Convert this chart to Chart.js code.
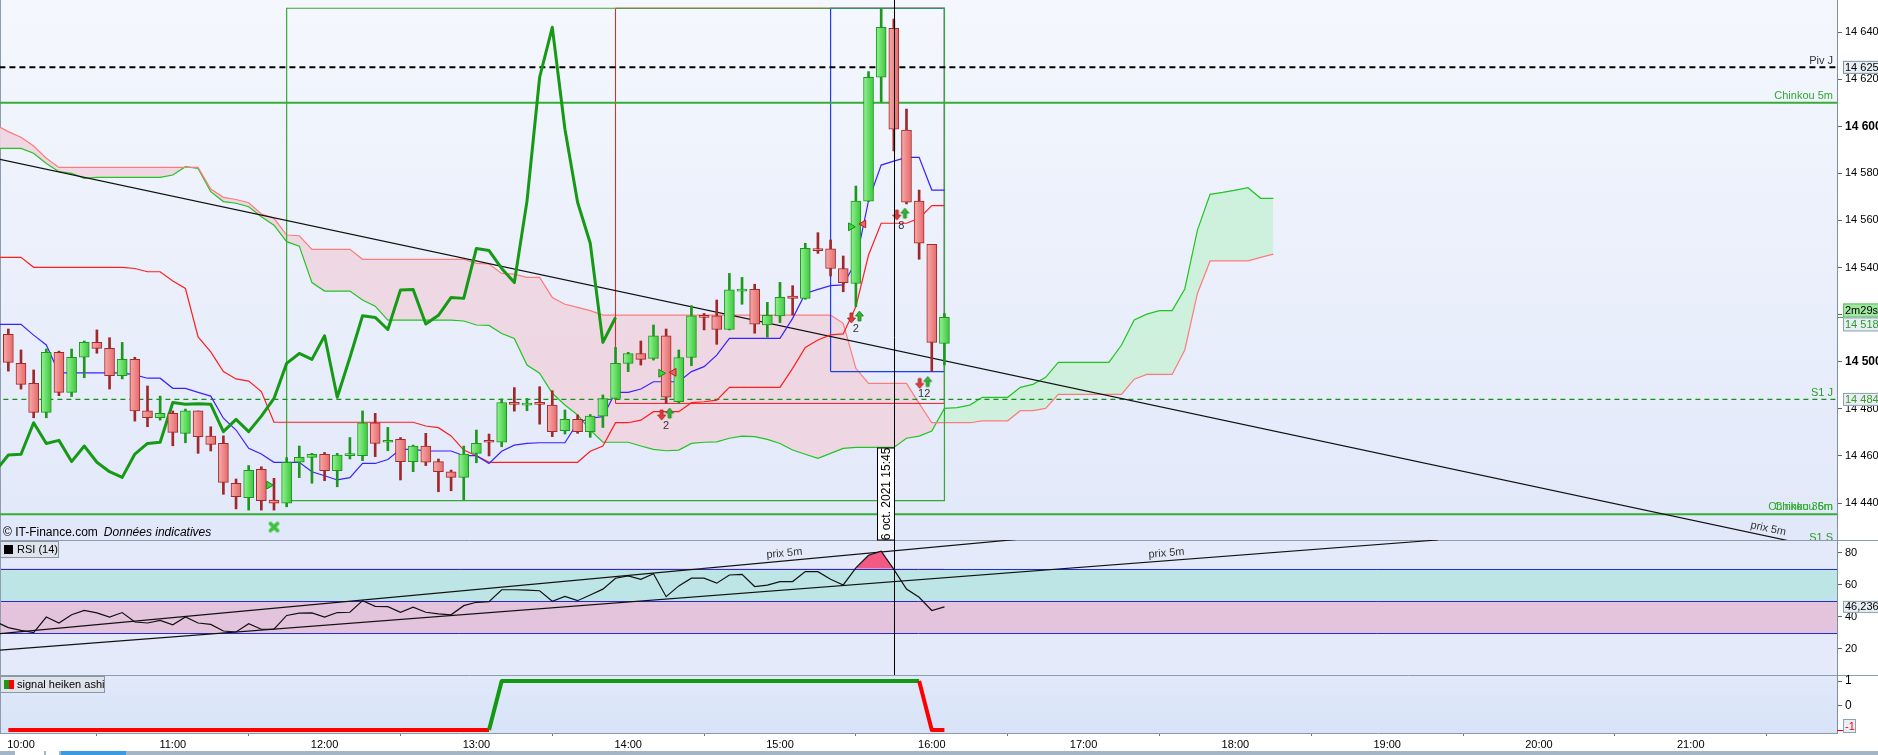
<!DOCTYPE html>
<html lang="fr">
<head>
<meta charset="utf-8">
<title>CAC / Ichimoku 5m</title>
<script src="https://cdn.jsdelivr.net/npm/chart.js@4.4.1/dist/chart.umd.min.js"></script>
<style>
html,body{margin:0;padding:0;background:#fff;overflow:hidden;}
canvas{display:block;}
</style>
</head>
<body>
<canvas id="chart" width="1878" height="755"></canvas>
<script>
// ================= DATA =================
const firstCandle = '09:55';   // first 5-minute candle
const lineStart   = '09:50';   // first point of the indicator lines
const barMinutes  = 5;

const open = [14511.6, 14499.3, 14490.8, 14478.5, 14504.0, 14487.0, 14501.9, 14508.2, 14505.7, 14494.1,
  14501.0, 14479.1, 14476.2, 14478.1, 14469.6, 14479.1, 14468.4, 14465.3, 14448.4, 14442.3,
  14454.3, 14441.3, 14439.9, 14457.3, 14459.4, 14460.7, 14453.7, 14460.1, 14460.1, 14474.1,
  14465.8, 14467.0, 14457.6, 14464.2, 14457.6, 14453.3, 14450.9, 14461.1, 14466.5, 14465.8,
  14482.7, 14481.6, 14482.5, 14481.6, 14470.7, 14475.5, 14470.3, 14476.9, 14484.4, 14499.3,
  14503.5, 14501.4, 14511.0, 14483.0, 14501.8, 14519.5, 14519.5, 14513.7, 14530.0, 14530.7,
  14515.6, 14519.4, 14527.9, 14526.9, 14547.9, 14547.9, 14539.6, 14533.3, 14568.2, 14620.8,
  14641.6, 14598.4, 14568.2, 14549.8, 14507.8];
const high = [14513.9, 14505.0, 14496.5, 14505.4, 14504.5, 14505.4, 14508.8, 14513.5, 14510.2, 14508.2,
  14501.9, 14489.7, 14485.4, 14479.1, 14479.9, 14479.1, 14472.4, 14468.5, 14450.2, 14455.9,
  14455.4, 14450.5, 14459.3, 14464.2, 14461.1, 14461.5, 14461.1, 14467.8, 14479.1, 14478.1,
  14472.1, 14467.8, 14464.6, 14469.6, 14458.7, 14454.0, 14464.2, 14471.0, 14469.3, 14484.2,
  14489.0, 14484.4, 14489.4, 14487.7, 14479.5, 14477.4, 14477.6, 14485.9, 14506.1, 14504.0,
  14508.8, 14515.6, 14513.9, 14505.0, 14523.8, 14520.5, 14526.2, 14537.5, 14535.8, 14532.9,
  14525.2, 14533.7, 14532.3, 14550.3, 14554.8, 14551.7, 14544.9, 14574.6, 14623.2, 14649.8,
  14645.5, 14607.3, 14572.9, 14549.8, 14520.5];
const low = [14496.0, 14488.4, 14476.2, 14476.2, 14485.6, 14485.2, 14493.2, 14503.6, 14488.4, 14492.7,
  14474.8, 14472.4, 14475.2, 14464.3, 14465.6, 14461.1, 14462.1, 14443.7, 14437.5, 14437.0,
  14437.0, 14437.0, 14438.4, 14450.8, 14448.4, 14449.5, 14446.9, 14458.7, 14458.0, 14459.7,
  14462.2, 14449.8, 14453.3, 14455.9, 14444.8, 14445.2, 14441.3, 14457.1, 14460.0, 14463.9,
  14479.0, 14479.2, 14473.5, 14468.2, 14469.3, 14469.6, 14467.9, 14472.1, 14484.0, 14495.8,
  14498.6, 14500.7, 14482.3, 14482.3, 14498.3, 14513.5, 14507.4, 14513.5, 14524.4, 14512.1,
  14510.4, 14516.6, 14519.8, 14526.5, 14546.0, 14536.4, 14529.7, 14523.4, 14568.0, 14610.4,
  14589.5, 14567.0, 14543.5, 14495.8, 14498.6];
const close = [14499.7, 14490.4, 14478.5, 14504.0, 14487.0, 14501.9, 14508.2, 14505.7, 14494.1, 14501.0,
  14479.1, 14476.2, 14478.1, 14470.0, 14479.1, 14468.2, 14464.9, 14448.8, 14442.7, 14453.9,
  14441.0, 14439.9, 14457.3, 14459.4, 14460.7, 14453.7, 14460.4, 14460.7, 14474.1, 14465.3,
  14466.6, 14457.6, 14464.2, 14457.3, 14453.3, 14450.9, 14460.8, 14465.3, 14465.8, 14482.7,
  14481.9, 14482.2, 14481.9, 14470.3, 14475.5, 14470.3, 14476.9, 14484.4, 14499.3, 14503.5,
  14501.0, 14511.0, 14484.9, 14501.8, 14519.5, 14518.8, 14513.7, 14530.5, 14530.7, 14516.0,
  14519.7, 14527.3, 14526.9, 14548.1, 14547.2, 14539.6, 14533.6, 14568.2, 14620.8, 14642.0,
  14598.7, 14567.7, 14550.3, 14508.2, 14518.8];

// Ichimoku lines (from 09:50)
const tenkan = [14515.9,
  14515.9, 14515.9, 14511.3, 14507.1, 14495.3, 14495.3, 14495.3, 14495.3, 14495.3, 14495.3,
  14494.4, 14493.0, 14493.0, 14488.7, 14488.7, 14487.0, 14485.4, 14476.0, 14471.0, 14463.2,
  14460.8, 14457.3, 14457.3, 14457.3, 14453.3, 14451.6, 14449.8, 14450.8, 14456.8, 14456.8,
  14458.5, 14462.8, 14462.8, 14462.1, 14462.1, 14462.1, 14460.1, 14460.1, 14456.8, 14462.0,
  14464.6, 14465.3, 14465.6, 14465.6, 14465.6, 14474.1, 14476.0, 14476.7, 14487.0, 14487.0,
  14488.4, 14491.5, 14491.5, 14491.5, 14495.8, 14497.9, 14502.8, 14509.9, 14509.9, 14509.9,
  14509.9, 14509.9, 14518.4, 14529.0, 14530.7, 14532.3, 14532.6, 14542.5, 14568.4, 14583.5,
  14585.2, 14586.8, 14586.8, 14572.9, 14572.9];
const kijun = [14544.3,
  14544.3, 14544.3, 14540.1, 14540.1, 14540.1, 14540.1, 14540.1, 14540.1, 14540.1, 14540.1,
  14539.6, 14538.2, 14538.2, 14534.3, 14531.1, 14510.5, 14504.2, 14495.8, 14492.7, 14491.8,
  14487.3, 14474.3, 14474.3, 14474.3, 14474.3, 14474.3, 14474.3, 14474.3, 14474.3, 14474.3,
  14474.3, 14474.3, 14474.3, 14472.7, 14472.0, 14468.5, 14462.5, 14460.1, 14457.3, 14457.3,
  14457.3, 14457.3, 14457.3, 14457.3, 14457.3, 14457.3, 14462.0, 14464.2, 14474.1, 14474.1,
  14475.2, 14478.8, 14478.8, 14478.8, 14482.6, 14483.0, 14483.7, 14489.1, 14489.1, 14489.1,
  14489.1, 14489.1, 14497.2, 14506.1, 14509.2, 14511.4, 14511.8, 14523.4, 14545.3, 14558.8,
  14558.8, 14558.8, 14560.9, 14566.3, 14566.3];
const chinkou = [14453.7, 14460.4, 14460.7, 14474.1, 14465.3, 14466.6, 14457.6, 14464.2, 14457.3, 14453.3,
  14450.9, 14460.8, 14465.3, 14465.8, 14482.7, 14481.9, 14482.2, 14481.9, 14470.3, 14475.5,
  14470.3, 14476.9, 14484.4, 14499.3, 14503.5, 14501.0, 14511.0, 14484.9, 14501.8, 14519.5,
  14518.8, 14513.7, 14530.5, 14530.7, 14516.0, 14519.7, 14527.3, 14526.9, 14548.1, 14547.2,
  14539.6, 14533.6, 14568.2, 14620.8, 14642.0, 14598.7, 14567.7, 14550.3, 14508.2, 14518.8];
const senkouA = [14590.6, 14590.6, 14590.6, 14588.5, 14584.2, 14580.7, 14580.0, 14577.9,
  14578.3, 14578.3, 14578.3, 14578.3, 14578.3, 14578.3,
  14579.3, 14582.8, 14582.1, 14572.2, 14568.0, 14567.3, 14565.8, 14561.6, 14558.0, 14551.0, 14549.1, 14533.6,
  14530.0, 14530.0, 14530.0, 14526.2, 14523.6,
  14517.7, 14517.7, 14517.7, 14517.7, 14517.7, 14517.7,
  14517.3, 14515.6, 14515.4, 14512.0, 14509.9, 14498.6, 14495.1, 14486.6, 14481.6, 14477.4, 14471.0,
  14465.8, 14465.8, 14465.8,
  14464.2, 14462.8, 14462.2, 14462.5, 14465.3, 14465.8, 14466.0, 14467.5, 14468.4, 14468.2, 14467.0, 14465.3, 14462.5, 14460.7, 14459.0, 14461.1, 14463.2,
  14463.6, 14463.6, 14463.6, 14463.6,
  14467.5, 14468.4, 14470.6, 14480.2, 14480.5, 14481.6,
  14484.9, 14484.9, 14484.9, 14489.1, 14490.4, 14493.4,
  14499.7, 14499.7, 14499.7, 14499.7, 14499.7,
  14507.1, 14517.7, 14520.2, 14521.7, 14521.7,
  14530.9, 14555.9, 14571.1, 14571.9, 14572.9, 14573.9, 14569.4, 14569.4];
const senkouB = [14600.5, 14597.7, 14595.3, 14591.6, 14586.4, 14582.5,
  14582.5, 14582.5, 14582.5, 14582.5, 14582.5, 14582.5, 14582.5, 14582.5, 14582.5, 14582.5, 14582.5,
  14573.3, 14569.8, 14568.9, 14567.5, 14562.7, 14560.9, 14553.8, 14553.5,
  14547.7, 14547.7, 14547.7, 14547.7,
  14543.5, 14543.5, 14543.5, 14543.5, 14543.5, 14543.5, 14543.5, 14543.5, 14543.5,
  14541.8, 14541.5, 14537.5, 14537.2, 14535.8, 14535.8, 14527.3, 14524.4, 14523.1, 14521.7,
  14519.8, 14519.8, 14519.8, 14519.8, 14519.8, 14519.8, 14519.8, 14519.8, 14519.8, 14519.8,
  14519.8, 14519.8, 14519.8, 14519.8, 14519.8, 14519.8, 14519.8, 14519.8, 14519.8,
  14516.3, 14497.2, 14490.8, 14490.8, 14490.8, 14490.8, 14482.3,
  14474.1, 14474.1, 14474.1, 14474.1, 14474.9, 14474.9, 14474.9,
  14479.2, 14479.2, 14480.2,
  14486.1, 14486.1, 14486.1, 14486.1, 14486.1, 14486.1,
  14492.6, 14494.6, 14494.6, 14494.6,
  14505.0, 14529.0, 14542.8, 14542.8, 14542.8, 14542.8, 14544.3, 14545.7];

// Horizontal levels
const pivotJ = 14625, chinkou5m = 14610.0, s1J = 14484, chinkou36m = 14435.2, s1S = 14422.6;
// Drawn zones: [from, to, low, high]
const greenBox = ['11:45', '16:05', 14441.0, 14650.1];
const redBox   = ['13:55', '16:05', 14482.3, 14650.1];
const blueBox  = ['15:20', '16:05', 14495.8, 14650.1];
// Trend lines [time, value]
const priceTrend = [['09:50', 14586.3], ['22:00', 14419.1]];
const rsiTrendA  = [['09:50', 29.35], ['16:40', 89.2]];
const rsiTrendB  = [['09:50', 19.15], ['19:20', 87.9]];
const trendLabelTimes = ['21:30', '15:02', '17:33'];
// Markers
const crossMarks = [{ t: '11:40', p: 14429.8 }];
const arrowMarks = [{ t: '14:15', p: 14477.8, n: '2' }, { t: '15:30', p: 14519.0, n: '2' },
                    { t: '15:48', p: 14562.7, n: '8' }, { t: '15:57', p: 14491.2, n: '12' }];
const triRight = [{ t: '11:38', p: 14447.6 }, { t: '14:13', p: 14495.1 }, { t: '15:28', p: 14557.3 }];
const triLeft  = [{ t: '14:18', p: 14495.5 }, { t: '15:33', p: 14558.5 }];
// Cursor
const cursorTime = '15:45';
const cursorLabel = '6 oct. 2021 15:45';
const timerText = '2m29s';

// RSI (14), from 09:50
const rsiBands = [70, 50, 30];
const rsi = [37.0,
  33.3, 31.6, 30.2, 39.9, 36.2, 41.3, 44.0, 42.5, 39.9, 42.7,
  36.8, 36.2, 37.8, 35.1, 39.9, 36.2, 35.3, 31.2, 30.6, 35.8,
  32.3, 32.3, 40.9, 42.3, 42.5, 39.9, 42.7, 42.9, 50.1, 46.6,
  46.4, 42.9, 46.0, 42.9, 41.9, 41.3, 47.0, 49.1, 49.5, 56.9,
  56.9, 56.7, 56.3, 49.7, 52.8, 50.1, 53.6, 57.3, 64.1, 65.5,
  63.4, 66.9, 52.6, 59.3, 64.1, 64.1, 61.0, 66.1, 66.5, 58.9,
  59.8, 62.0, 62.0, 68.2, 68.2, 63.4, 59.9, 70.6, 78.4, 80.9,
  69.6, 57.3, 52.2, 44.0, 46.236];
// Signal heiken ashi, from 09:55
const signal = [-1, -1, -1, -1, -1, -1, -1, -1, -1, -1,
  -1, -1, -1, -1, -1, -1, -1, -1, -1, -1,
  -1, -1, -1, -1, -1, -1, -1, -1, -1, -1,
  -1, -1, -1, -1, -1, -1, -1, -1, -1, 1,
  1, 1, 1, 1, 1, 1, 1, 1, 1, 1,
  1, 1, 1, 1, 1, 1, 1, 1, 1, 1,
  1, 1, 1, 1, 1, 1, 1, 1, 1, 1,
  1, 1, 1, -1, -1];

// axis ranges (minutes since midnight / values)
const xRange = [591.7, 1317.8];
const priceRange = [14424.3, 14653.6];
const rsiRange = [3.8, 87.9];
const sigRange = [-1.12, 1.245];

// ================= HELPERS =================
const FONT = '"Liberation Sans", Arial, Helvetica, sans-serif';
Chart.defaults.font.family = FONT;
Chart.defaults.color = '#000';
const toMin = s => { const [h, m] = String(s).split(':').map(Number); return h * 60 + m; };
const hhmm = v => `${Math.floor(v / 60)}:${String(Math.round(v % 60)).padStart(2, '0')}`;
const fmtPrice = v => { const s = String(Math.floor(v)); return s.slice(0, -3) + ' ' + s.slice(-3); };
const at = (arr, start) => arr.map((v, i) => ({ x: toMin(start) + barMinutes * i, y: v }));
const seg = pairs => pairs.map(([t, v]) => ({ x: toMin(t), y: v }));
const hline = v => [{ x: xRange[0] - 20, y: v }, { x: xRange[1] + 20, y: v }];
const rect = ([t0, t1, lo, hi]) => seg([[t0, lo], [t0, hi], [t1, hi], [t1, lo], [t0, lo]]);
const marks = list => list.map(m => ({ x: toMin(m.t), y: m.p }));

const candleT = close.map((_, i) => toMin(firstCandle) + barMinutes * i);
const up = close.map((c, i) => c >= open[i]);

function makeArrowPair() {
  const c = document.createElement('canvas'); c.width = 18; c.height = 14;
  const g = c.getContext('2d');
  g.lineWidth = 0.8;
  g.fillStyle = '#e23b3b'; g.strokeStyle = '#a51d1d';
  g.beginPath(); g.moveTo(3, 3); g.lineTo(6, 3); g.lineTo(6, 8); g.lineTo(8.5, 8); g.lineTo(4.5, 13); g.lineTo(0.5, 8); g.lineTo(3, 8); g.closePath(); g.fill(); g.stroke();
  g.fillStyle = '#2fb52f'; g.strokeStyle = '#17801a';
  g.beginPath(); g.moveTo(12.5, 1); g.lineTo(16.5, 6); g.lineTo(14, 6); g.lineTo(14, 11); g.lineTo(11, 11); g.lineTo(11, 6); g.lineTo(8.5, 6); g.closePath(); g.fill(); g.stroke();
  return c;
}
function makeCross() {
  const c = document.createElement('canvas'); c.width = 13; c.height = 13;
  const g = c.getContext('2d');
  g.strokeStyle = '#3cc23c'; g.lineWidth = 3.8; g.lineCap = 'round';
  g.beginPath(); g.moveTo(3, 3); g.lineTo(10, 10); g.moveTo(10, 3); g.lineTo(3, 10); g.stroke();
  return c;
}
// horizontal shading of a candle body (lighter on the left like the original)
function bodyFill(c) {
  const i = c.dataIndex;
  const isUp = up[i];
  const flat = isUp ? '#5fde5f' : '#f08282';
  const xs = c.chart.scales && c.chart.scales.x;
  if (c.type !== 'data' || !xs || !isFinite(xs.getPixelForValue(candleT[i]))) return flat;
  const p = xs.getPixelForValue(candleT[i]);
  const g = c.chart.ctx.createLinearGradient(p - 5, 0, p + 5, 0);
  if (isUp) { g.addColorStop(0, '#93f393'); g.addColorStop(1, '#3cc63c'); }
  else { g.addColorStop(0, '#f7aaaa'); g.addColorStop(1, '#e56a6a'); }
  return g;
}

const L = (data, color, width, extra) => Object.assign({
  type: 'line', data, borderColor: color, borderWidth: width, pointRadius: 0,
  tension: 0, fill: false, yAxisID: 'y'
}, extra || {});

const datasets = [
  L(at(senkouA, lineStart), '#22c422', 1.2, { order: 100, fill: { target: 1, above: 'rgba(204,240,219,0.95)', below: 'rgba(238,214,226,0.95)' } }),
  L(at(senkouB, lineStart), '#ff7b7b', 1.2, { order: 99 }),
  L(rect(greenBox), '#36a836', 1.2, { order: 86 }),
  L(rect(redBox), '#ee1c1c', 1, { order: 89 }),
  L(rect(blueBox), '#1f3fe6', 1.2, { order: 88 }),
  L(hline(pivotJ), '#000000', 2, { order: 80, borderDash: [6, 4] }),
  L(hline(chinkou5m), '#34ae34', 2, { order: 80 }),
  L(hline(s1J), '#169016', 1.2, { order: 80, borderDash: [5, 4] }),
  L(hline(chinkou36m), '#34ae34', 2, { order: 80 }),
  L(seg(priceTrend), '#111111', 1.2, { order: 75 }),
  L(at(kijun, lineStart), '#ff1e1e', 1.2, { order: 70 }),
  L(at(tenkan, lineStart), '#3a22ff', 1.2, { order: 69 }),
  L(at(chinkou, lineStart), '#169a16', 3, { order: 65, borderJoinStyle: 'round' }),
  { type: 'bar', yAxisID: 'y', order: 50, grouped: false, barThickness: 2, borderWidth: 0,
    data: candleT.map((t, i) => ({ x: t, y: [low[i], high[i]] })),
    backgroundColor: up.map(u => u ? '#1c981c' : '#a0282a') },
  { type: 'bar', yAxisID: 'y', order: 49, grouped: false, barThickness: 10, borderWidth: 1, borderSkipped: false, minBarLength: 2,
    data: candleT.map((t, i) => ({ x: t, y: [open[i], close[i]] })),
    backgroundColor: bodyFill,
    borderColor: up.map(u => u ? '#1c981c' : '#a32a2a') },
  { type: 'line', yAxisID: 'y', order: 10, showLine: false, data: marks(triRight),
    pointStyle: 'triangle', pointRotation: 90, pointRadius: 4.5, pointBackgroundColor: '#45d045', pointBorderColor: '#168a16', pointBorderWidth: 1 },
  { type: 'line', yAxisID: 'y', order: 10, showLine: false, data: marks(triLeft),
    pointStyle: 'triangle', pointRotation: -90, pointRadius: 4.5, pointBackgroundColor: '#f06262', pointBorderColor: '#b02020', pointBorderWidth: 1 },
  { type: 'line', yAxisID: 'y', order: 10, showLine: false, data: marks(arrowMarks),
    pointStyle: makeArrowPair(), pointRadius: 6 },
  { type: 'line', yAxisID: 'y', order: 10, showLine: false, data: marks(crossMarks),
    pointStyle: makeCross(), pointRadius: 6 },
  L(at(rsi, lineStart), '#111111', 1.2, { yAxisID: 'yR', order: 20,
    fill: { target: { value: rsiBands[0] }, above: '#f25a84', below: 'rgba(0,0,0,0)' } }),
  L(seg(rsiTrendA), '#111111', 1.2, { yAxisID: 'yR', order: 21 }),
  L(seg(rsiTrendB), '#111111', 1.2, { yAxisID: 'yR', order: 21 }),
  L(at(signal, firstCandle), '#119911', 4, { yAxisID: 'yS', order: 20, borderJoinStyle: 'round',
    segment: { borderColor: c => c.p1.parsed.y > 0 ? '#119911' : '#ff0000' } })
];

// ================= PLUGIN =================
function trendLabel(ctx, xs, ys, line, t) {
  const x0 = xs.getPixelForValue(toMin(line[0][0])), y0 = ys.getPixelForValue(line[0][1]);
  const x1 = xs.getPixelForValue(toMin(line[1][0])), y1 = ys.getPixelForValue(line[1][1]);
  const ang = Math.atan2(y1 - y0, x1 - x0);
  const lx = xs.getPixelForValue(toMin(t));
  const ly = y0 + (y1 - y0) * (lx - x0) / (x1 - x0);
  ctx.save(); ctx.translate(lx, ly); ctx.rotate(ang);
  ctx.textAlign = 'center'; ctx.textBaseline = 'bottom'; ctx.fillStyle = '#333';
  ctx.fillText('prix 5m', 0, -2); ctx.restore();
}
function tag(ctx, chart, x0, top, h, text, fg, bg, border) {
  ctx.fillStyle = bg; ctx.fillRect(x0, top, chart.width - x0, h);
  ctx.strokeStyle = border; ctx.lineWidth = 1;
  ctx.strokeRect(x0 + 0.5, top + 0.5, chart.width - x0, h - 1);
  ctx.fillStyle = fg; ctx.textAlign = 'left'; ctx.textBaseline = 'middle';
  ctx.fillText(text, x0 + 2, top + h / 2 + 0.5);
}

const overlay = {
  id: 'overlay',
  beforeDraw(chart) {
    const { ctx, scales: { x, y, yR, yS } } = chart;
    const Lx = x.left, W = x.right - x.left;
    ctx.save();
    ctx.fillStyle = '#ffffff'; ctx.fillRect(0, 0, chart.width, chart.height);
    let g = ctx.createLinearGradient(0, y.top, 0, y.bottom);
    g.addColorStop(0, '#f4f7fd'); g.addColorStop(1, '#e1e8f9');
    ctx.fillStyle = g; ctx.fillRect(Lx, y.top, W, y.bottom - y.top);
    ctx.fillStyle = '#e5eafa'; ctx.fillRect(Lx, yR.top, W, yR.bottom - yR.top);
    const band = (a, b, c) => { const ya = yR.getPixelForValue(a), yb = yR.getPixelForValue(b); ctx.fillStyle = c; ctx.fillRect(Lx, ya, W, yb - ya); };
    band(rsiBands[0], rsiBands[1], '#bde5e5');
    band(rsiBands[1], rsiBands[2], '#e4c3dc');
    ctx.strokeStyle = '#2a2ad2'; ctx.lineWidth = 1;
    rsiBands.forEach(v => { const yy = Math.round(yR.getPixelForValue(v)) + 0.5; ctx.beginPath(); ctx.moveTo(Lx, yy); ctx.lineTo(x.right, yy); ctx.stroke(); });
    g = ctx.createLinearGradient(0, yS.top, 0, yS.bottom);
    g.addColorStop(0, '#e1e9fa'); g.addColorStop(1, '#d8e3f8');
    ctx.fillStyle = g; ctx.fillRect(Lx, yS.top, W, yS.bottom - yS.top);
    ctx.strokeStyle = '#8d9cae';
    [y.bottom, yR.bottom].forEach(v => { const yy = Math.round(v) + 0.5; ctx.beginPath(); ctx.moveTo(0, yy); ctx.lineTo(chart.width, yy); ctx.stroke(); });
    ctx.beginPath(); ctx.moveTo(0.5, 0); ctx.lineTo(0.5, x.top); ctx.stroke();
    // bottom scroll strip
    const sb = chart.height - 4;
    ctx.fillStyle = '#a3b5c7'; ctx.fillRect(0, sb, chart.width, 4);
    ctx.fillStyle = '#ffffff'; ctx.fillRect(15, sb, 29, 4); ctx.fillRect(46, sb, 13, 4);
    ctx.fillStyle = '#3b9be0'; ctx.fillRect(61, sb, 65, 4);
    ctx.restore();
  },
  beforeDatasetDraw(chart, args) {
    const ys = chart.scales[args.meta.yAxisID], xs = chart.scales.x, ctx = chart.ctx;
    ctx.save(); ctx.beginPath(); ctx.rect(xs.left, ys.top, xs.right - xs.left, ys.bottom - ys.top); ctx.clip();
  },
  afterDatasetDraw(chart) { chart.ctx.restore(); },
  afterDatasetsDraw(chart) {
    const { ctx, scales: { x, y, yR } } = chart;
    ctx.save();
    ctx.font = `11px ${FONT}`;
    // marker counts
    ctx.fillStyle = '#333'; ctx.textAlign = 'center'; ctx.textBaseline = 'middle';
    arrowMarks.forEach(m => ctx.fillText(m.n, x.getPixelForValue(toMin(m.t)), y.getPixelForValue(m.p) + 12));
    // main-pane labels
    ctx.save(); ctx.beginPath(); ctx.rect(x.left, y.top, x.right - x.left, y.bottom - y.top); ctx.clip();
    ctx.textAlign = 'right'; ctx.textBaseline = 'middle';
    const R = x.right - 4;
    const lab = (text, v, color, dy) => { ctx.fillStyle = color; ctx.fillText(text, R, y.getPixelForValue(v) - dy); };
    lab('Piv J', pivotJ, '#333333', 6);
    lab('Chinkou 5m', chinkou5m, '#2faa2f', 7);
    lab('S1 J', s1J, '#2a9a2a', 6);
    lab('Chinkou 36m', chinkou36m, '#2faa2f', 7);
    lab('Chinkou 5m', chinkou36m, '#2faa2f', 7);
    lab('S1 S', s1S, '#2a9a2a', 6);
    trendLabel(ctx, x, y, priceTrend, trendLabelTimes[0]);
    ctx.restore();
    // RSI-pane labels
    ctx.save(); ctx.beginPath(); ctx.rect(x.left, yR.top, x.right - x.left, yR.bottom - yR.top); ctx.clip();
    trendLabel(ctx, x, yR, rsiTrendA, trendLabelTimes[1]);
    trendLabel(ctx, x, yR, rsiTrendB, trendLabelTimes[2]);
    ctx.restore();
    // cursor
    const cx = Math.round(x.getPixelForValue(toMin(cursorTime))) + 0.5;
    ctx.strokeStyle = '#000'; ctx.lineWidth = 1;
    ctx.beginPath(); ctx.moveTo(cx, y.top); ctx.lineTo(cx, yR.bottom); ctx.stroke();
    const bh = 92, bw = 17;
    ctx.fillStyle = '#ffffff'; ctx.fillRect(cx - bw, y.bottom - bh, bw, bh);
    ctx.strokeRect(cx - bw, y.bottom - bh, bw, bh);
    ctx.save(); ctx.translate(cx - bw / 2, y.bottom - bh / 2); ctx.rotate(-Math.PI / 2);
    ctx.fillStyle = '#000'; ctx.textAlign = 'center'; ctx.textBaseline = 'middle';
    ctx.font = `12px ${FONT}`; ctx.fillText(cursorLabel, 0, 1); ctx.restore();
    ctx.restore();
  },
  afterDraw(chart) {
    const { ctx, scales: { x, y, yR, yS } } = chart;
    ctx.save();
    ctx.font = `11px ${FONT}`;
    const x0 = y.left + 6;
    // axis tags
    const pv = y.getPixelForValue(pivotJ);
    tag(ctx, chart, x0, pv - 6.5, 13, fmtPrice(pivotJ), '#000', '#e9eef5', '#7d91a8');
    const lc = close[close.length - 1], pl = y.getPixelForValue(lc);
    ctx.strokeStyle = '#2faa2f'; ctx.beginPath(); ctx.moveTo(y.left, Math.round(pl) + 0.5); ctx.lineTo(x0, Math.round(pl) + 0.5); ctx.stroke();
    tag(ctx, chart, x0, pl - 14, 14, timerText, '#000', '#a0e8a0', '#66bb66');
    tag(ctx, chart, x0, pl, 14, fmtPrice(lc), '#2a9a2a', '#e9eef5', '#8ea0b4');
    const ps = y.getPixelForValue(s1J);
    tag(ctx, chart, x0, ps - 6.5, 13, fmtPrice(s1J), '#3a9a2a', '#e9eef5', '#8ea0b4');
    const lr = rsi[rsi.length - 1], pr = yR.getPixelForValue(lr);
    tag(ctx, chart, x0, pr - 6, 12, lr.toFixed(3).replace('.', ','), '#000', '#e9eef5', '#8ea0b4');
    const lsig = signal[signal.length - 1], psg = yS.getPixelForValue(lsig);
    ctx.strokeStyle = '#ff0000'; ctx.beginPath(); ctx.moveTo(y.left, Math.round(psg) + 0.5); ctx.lineTo(x0, Math.round(psg) + 0.5); ctx.stroke();
    const top = Math.min(psg - 7, yS.bottom - 14);
    ctx.fillStyle = '#e9eef5'; ctx.fillRect(x0, top, 13, 14);
    ctx.strokeStyle = '#8ea0b4'; ctx.strokeRect(x0 + 0.5, top + 0.5, 12, 13);
    ctx.fillStyle = '#ff0000'; ctx.textAlign = 'left'; ctx.textBaseline = 'middle'; ctx.fillText(String(lsig), x0 + 2, top + 7.5);
    // legends
    const legend = (ty, w, text, icon) => {
      ctx.fillStyle = '#dfe4ea'; ctx.fillRect(0, ty, w, 17);
      ctx.strokeStyle = '#8898a8'; ctx.strokeRect(0.5, ty + 0.5, w - 1, 16);
      icon(ty);
      ctx.fillStyle = '#000'; ctx.textAlign = 'left'; ctx.textBaseline = 'middle';
      ctx.font = `11px ${FONT}`; ctx.fillText(text, 17, ty + 9);
    };
    legend(yR.top + 1, 59, 'RSI (14)', ty => { ctx.fillStyle = '#000'; ctx.fillRect(4, ty + 4, 9, 9); });
    legend(yS.top + 1, 105, 'signal heiken ashi', ty => {
      ctx.fillStyle = '#1a9a1a'; ctx.fillRect(4, ty + 4, 5, 9);
      ctx.fillStyle = '#ff0000'; ctx.fillRect(9, ty + 4, 5, 9);
    });
    // copyright
    ctx.fillStyle = '#000'; ctx.textAlign = 'left'; ctx.textBaseline = 'middle';
    ctx.font = `12px ${FONT}`;
    const cy = y.bottom - 7;
    const c1 = '\u00A9 IT-Finance.com';
    ctx.fillText(c1, 3, cy);
    const w1 = ctx.measureText(c1).width;
    ctx.font = `italic 12px ${FONT}`;
    ctx.fillText('Donn\u00e9es indicatives', 3 + w1 + 6, cy);
    ctx.restore();
  }
};

// ================= CHART =================
const noPad = s => { s.paddingTop = 0; s.paddingBottom = 0; s.paddingLeft = 0; s.paddingRight = 0; };
const yFit = s => { s.width = 41; noPad(s); };
const yTicks = (extra) => Object.assign({ includeBounds: false, autoSkip: false, padding: 3, color: '#000', font: { family: FONT, size: 11 } }, extra);
const yGrid = { drawOnChartArea: false, drawTicks: true, tickLength: 5, color: '#5a6570' };
const yBorder = { display: true, color: '#7f8fa0', width: 1 };

new Chart(document.getElementById('chart'), {
  type: 'line',
  data: { datasets },
  options: {
    responsive: false,
    animation: false,
    events: [],
    layout: { padding: 0, autoPadding: false },
    plugins: { legend: { display: false }, tooltip: { enabled: false }, filler: { propagate: false } },
    scales: {
      x: {
        type: 'linear', position: 'bottom', min: xRange[0], max: xRange[1], offset: false,
        afterFit: s => { s.height = 22; noPad(s); },
        grid: { drawOnChartArea: false, drawTicks: true, tickLength: 3, color: '#6a7888' },
        border: { display: true, color: '#8b9aab' },
        ticks: { stepSize: 60, includeBounds: false, autoSkip: false, maxRotation: 0, padding: 2, color: '#000',
                 font: { family: FONT, size: 11 }, callback: v => hhmm(v) }
      },
      y: {
        type: 'linear', position: 'right', stack: 'panes', stackWeight: 540,
        min: priceRange[0], max: priceRange[1], beginAtZero: false,
        afterFit: yFit,
        grid: yGrid, border: yBorder,
        ticks: yTicks({ stepSize: 20, callback: v => fmtPrice(v),
          font: c => ({ family: FONT, size: (c.tick && c.tick.value % 100 === 0) ? 12 : 11, weight: (c.tick && c.tick.value % 100 === 0) ? 'bold' : 'normal' }) })
      },
      yR: {
        type: 'linear', position: 'right', stack: 'panes', stackWeight: 135,
        min: rsiRange[0], max: rsiRange[1],
        afterFit: yFit,
        grid: yGrid, border: yBorder,
        ticks: yTicks({ stepSize: 20 })
      },
      yS: {
        type: 'linear', position: 'right', stack: 'panes', stackWeight: 58,
        min: sigRange[0], max: sigRange[1],
        afterFit: yFit,
        grid: Object.assign({}, yGrid, { color: c => (c.tick && c.tick.value === -1) ? '#ff0000' : '#5a6570' }),
        border: yBorder,
        ticks: yTicks({ stepSize: 1, callback: v => v === -1 ? '' : String(v), font: { family: FONT, size: 12 } })
      }
    }
  },
  plugins: [overlay]
});
</script>
</body>
</html>
